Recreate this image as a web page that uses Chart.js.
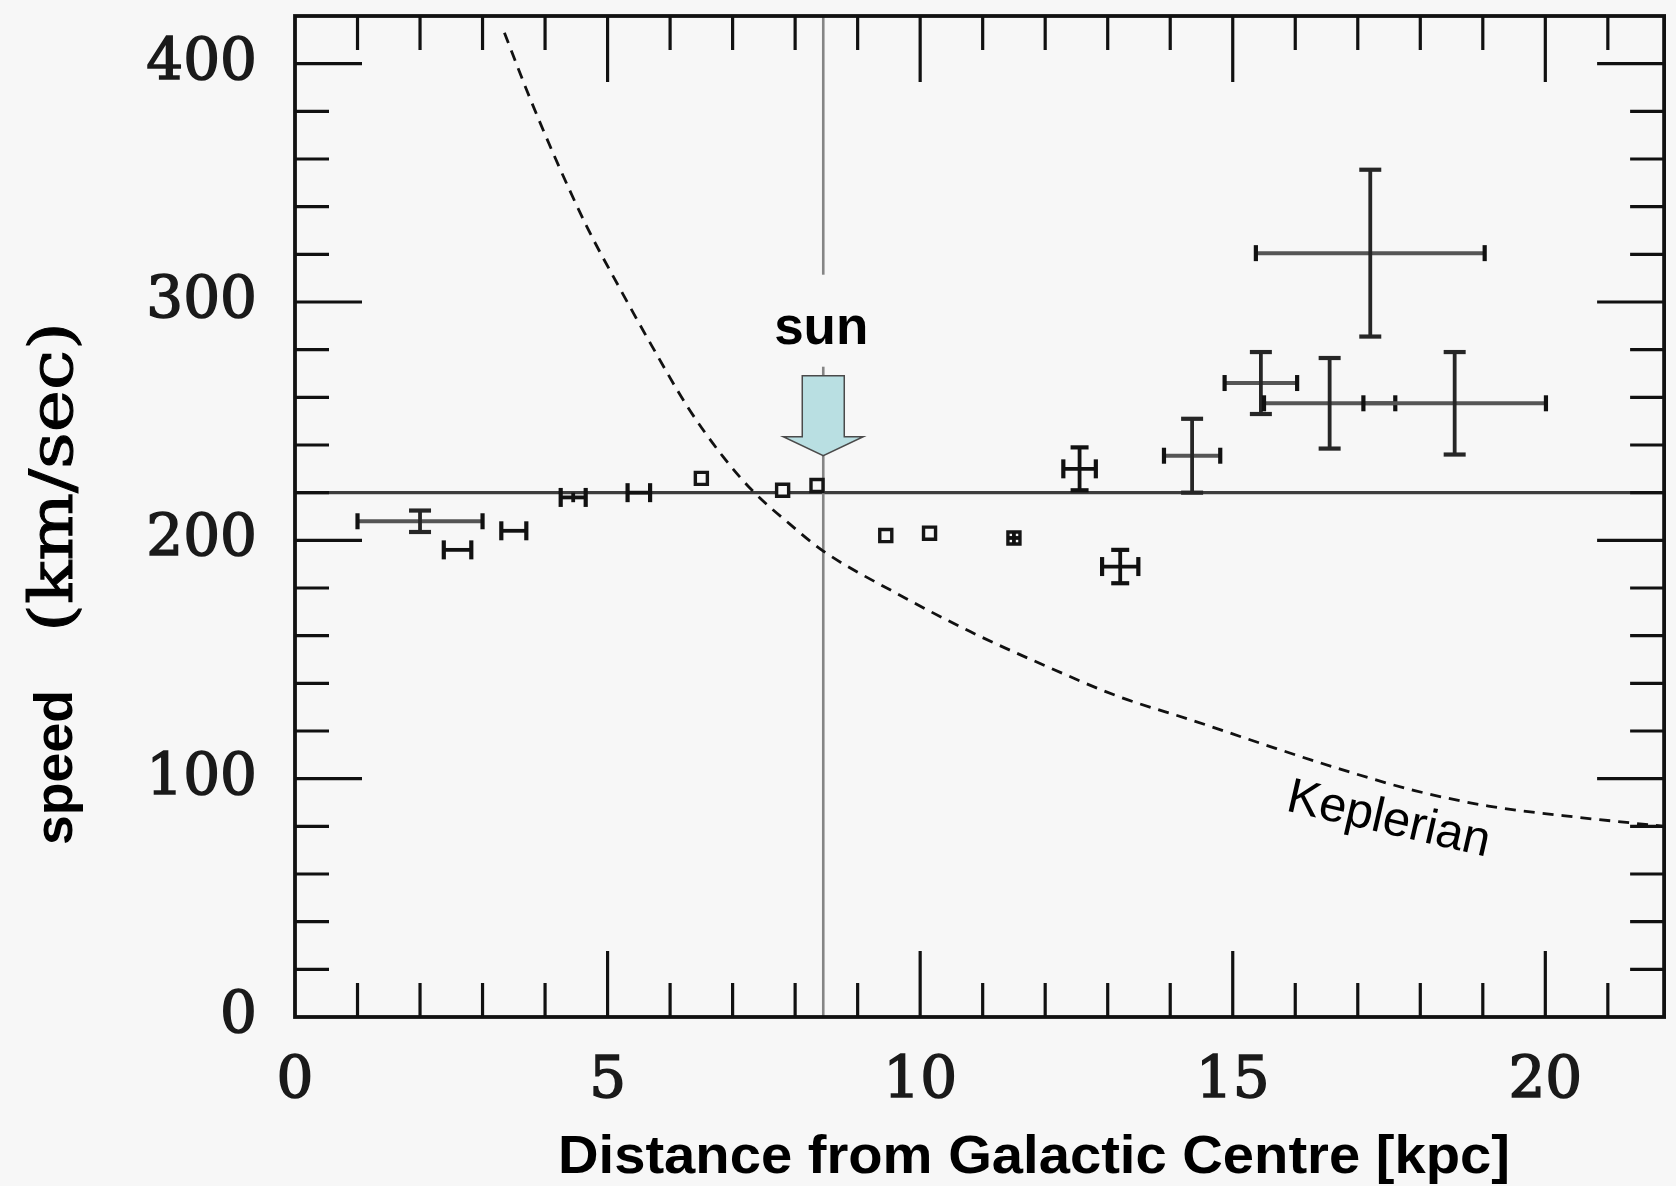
<!DOCTYPE html>
<html>
<head>
<meta charset="utf-8">
<title>Rotation curve of the Milky Way</title>
<script src="https://cdn.jsdelivr.net/npm/chart.js@4.4.1/dist/chart.umd.min.js"></script>
<style>
  html, body { margin: 0; padding: 0; background: #f7f7f7; }
  #wrap { position: relative; width: 1676px; height: 1186px; }
</style>
</head>
<body>
<div id="wrap"><canvas id="chart"></canvas></div>
<script>
// Measured circular speeds (kpc, km/s) with their half-width error bars
const radius    = [2.0, 2.6, 3.5, 4.45, 5.5, 6.5, 7.8, 8.35, 9.45, 10.15, 11.5, 12.55, 13.2, 14.35, 15.45, 16.55, 17.2, 18.55];
const speed     = [208, 196, 204, 218, 220, 226, 221, 223, 202, 203, 201, 230, 189, 235.5, 266, 257.5, 320.5, 257.5];
const radiusErr = [1.0, 0.22, 0.2, 0.2, 0.18, 0, 0, 0, 0, 0, 0.1, 0.26, 0.29, 0.45, 0.58, 1.05, 1.83, 1.46];
const speedErr  = [4.5, 0, 0, 2, 0, 0, 0, 0, 0, 0, 2.5, 9, 7, 15.5, 13, 19, 35, 21.5];

// Keplerian fall-off (dashed curve)
const keplerRadius = [3.35, 3.72, 4.17, 4.68, 5.20, 5.71, 6.28, 6.85, 7.33, 7.93, 8.45, 9.62, 10.80, 11.99, 13.17, 14.35, 15.54, 16.72, 17.91, 19.09, 20.28, 21.46, 21.90];
const keplerSpeed  = [413, 388, 360, 331, 305.5, 281.5, 256, 235, 220.5, 206.5, 195.5, 177.8, 161.7, 147.5, 134.5, 124.5, 114, 104, 95, 88.5, 84.5, 81.2, 80];

// Axis ticks
const xTickLabels = [0, 5, 10, 15, 20];
const yTickLabels = [0, 100, 200, 300, 400];
const xMinorStep = 1;
const yMinorStep = 20;
const xMax = 21.9;
const yMax = 420;

// Reference lines and annotations
const flatSpeed = 220;      // flat rotation speed
const sunRadius = 8.45;     // Sun's galactocentric distance
const sunArrowTip = 235.5;  // arrow points down onto the Sun's line
const sunLabelSpeed = 282.5;
const keplerLabelAt = [15.83, 86.7];

const BG = '#f7f7f7';

function drawFitted(ctx, text, x, y, width, font, angle, stroke) {
  ctx.save();
  ctx.font = font;
  ctx.translate(x, y);
  if (angle) ctx.rotate(angle);
  const w = ctx.measureText(text).width;
  ctx.scale(width / w, 1);
  ctx.textAlign = 'left';
  ctx.textBaseline = 'alphabetic';
  ctx.fillText(text, 0, 0);
  if (stroke) {
    ctx.lineWidth = stroke;
    ctx.strokeStyle = ctx.fillStyle;
    ctx.strokeText(text, 0, 0);
  }
  ctx.restore();
}

function seg(ctx, x1, y1, x2, y2) {
  ctx.beginPath(); ctx.moveTo(x1, y1); ctx.lineTo(x2, y2); ctx.stroke();
}

const backgroundPlugin = {
  id: 'background',
  beforeDraw(chart) {
    const ctx = chart.ctx;
    ctx.save();
    ctx.fillStyle = BG;
    ctx.fillRect(0, 0, chart.width, chart.height);
    ctx.restore();
  }
};

const guidesPlugin = {
  id: 'guides',
  beforeDatasetsDraw(chart) {
    const { ctx, chartArea: a, scales: { x, y } } = chart;
    ctx.save();
    const yp = y.getPixelForValue(flatSpeed);
    ctx.strokeStyle = '#3c3c3c';
    ctx.lineWidth = 3.2;
    seg(ctx, a.left, yp, a.right, yp);
    const xp = x.getPixelForValue(sunRadius);
    ctx.strokeStyle = '#858585';
    ctx.lineWidth = 2.6;
    seg(ctx, xp, a.top, xp, a.bottom);
    // backdrop behind the "sun" label
    const ly = y.getPixelForValue(sunLabelSpeed);
    ctx.fillStyle = BG;
    ctx.fillRect(xp - 55, ly - 69, 110, 92);
    ctx.restore();
  }
};

const errorBarPlugin = {
  id: 'errorBars',
  afterDatasetsDraw(chart) {
    const { ctx, scales: { x, y } } = chart;
    ctx.save();
    ctx.lineCap = 'butt';
    radius.forEach((r, i) => {
      const px = x.getPixelForValue(r);
      const py = y.getPixelForValue(speed[i]);
      const dx = radiusErr[i], dy = speedErr[i];
      const wide = dx > 0.4;
      if (dx > 0) {
        const x1 = x.getPixelForValue(r - dx), x2 = x.getPixelForValue(r + dx);
        ctx.strokeStyle = wide ? '#555' : '#111';
        ctx.lineWidth = wide ? 4 : 3.8;
        seg(ctx, x1, py, x2, py);
        if (px - x1 > 8) {
          const h = wide ? 8 : 9.5;
          ctx.strokeStyle = '#111';
          ctx.lineWidth = 4.2;
          seg(ctx, x1, py - h, x1, py + h);
          seg(ctx, x2, py - h, x2, py + h);
        }
      }
      if (dy > 0) {
        const y1 = y.getPixelForValue(speed[i] + dy), y2 = y.getPixelForValue(speed[i] - dy);
        ctx.strokeStyle = wide ? '#262626' : '#111';
        ctx.lineWidth = 3.8;
        seg(ctx, px, y1, px, y2);
        if (y2 - py > 8) {
          const w = wide ? 11 : 9;
          ctx.lineWidth = 4.2;
          seg(ctx, px - w, y1, px + w, y1);
          seg(ctx, px - w, y2, px + w, y2);
        }
      }
    });
    ctx.restore();
  }
};

const framePlugin = {
  id: 'frame',
  afterDraw(chart) {
    const { ctx, chartArea: a, scales: { x, y } } = chart;
    ctx.save();
    ctx.strokeStyle = '#111';
    ctx.lineWidth = 3.2;
    // inward ticks on all four sides
    for (let k = 1; k * xMinorStep < xMax; k++) {
      const v = k * xMinorStep;
      const len = xTickLabels.includes(v) ? 66 : 34;
      const p = x.getPixelForValue(v);
      seg(ctx, p, a.bottom, p, a.bottom - len);
      seg(ctx, p, a.top, p, a.top + len);
    }
    for (let k = 1; k * yMinorStep < yMax; k++) {
      const v = k * yMinorStep;
      const len = yTickLabels.includes(v) ? 67 : 34;
      const p = y.getPixelForValue(v);
      seg(ctx, a.left, p, a.left + len, p);
      seg(ctx, a.right, p, a.right - len, p);
    }
    ctx.lineWidth = 3.8;
    ctx.strokeRect(a.left, a.top, a.right - a.left, a.bottom - a.top);

    // Sun marker: label and arrow
    const sx = x.getPixelForValue(sunRadius);
    ctx.fillStyle = '#000';
    ctx.font = 'bold 53px "Liberation Sans", Arial, sans-serif';
    ctx.textAlign = 'center';
    ctx.textBaseline = 'alphabetic';
    ctx.fillText('sun', sx - 2, y.getPixelForValue(sunLabelSpeed));

    const ty = y.getPixelForValue(sunArrowTip);
    ctx.beginPath();
    ctx.moveTo(sx - 21, ty - 80);
    ctx.lineTo(sx + 21, ty - 80);
    ctx.lineTo(sx + 21, ty - 19);
    ctx.lineTo(sx + 40, ty - 19);
    ctx.lineTo(sx, ty);
    ctx.lineTo(sx - 40, ty - 19);
    ctx.lineTo(sx - 21, ty - 19);
    ctx.closePath();
    ctx.fillStyle = '#b9dfe2';
    ctx.fill();
    ctx.strokeStyle = '#4a4a4a';
    ctx.lineWidth = 1.5;
    ctx.stroke();

    // Keplerian label along the dashed curve
    ctx.fillStyle = '#000';
    ctx.save();
    ctx.translate(x.getPixelForValue(keplerLabelAt[0]), y.getPixelForValue(keplerLabelAt[1]));
    ctx.rotate(12.9 * Math.PI / 180);
    ctx.font = '49px "Liberation Sans", Arial, sans-serif';
    ctx.textAlign = 'left';
    ctx.fillText('Keplerian', 0, 0);
    ctx.restore();

    // Axis titles
    drawFitted(ctx, 'Distance from Galactic Centre [kpc]', 558, 1173, 952,
      'bold 54px "Liberation Sans", Arial, sans-serif', 0);
    drawFitted(ctx, 'speed', 72, 845, 155,
      'bold 54px "Liberation Sans", Arial, sans-serif', -Math.PI / 2);
    drawFitted(ctx, '(km/sec)', 72, 632, 310,
      '59px "DejaVu Serif", serif', -Math.PI / 2, 1);
    ctx.restore();
  }
};

const tickFont = { family: '"DejaVu Serif", serif', size: 58, lineHeight: 1 };

new Chart(document.getElementById('chart'), {
  type: 'scatter',
  data: {
    datasets: [
      {
        label: 'Keplerian',
        data: keplerRadius.map((r, i) => ({ x: r, y: keplerSpeed[i] })),
        showLine: true,
        borderColor: '#111',
        borderWidth: 2.8,
        borderDash: [11, 8],
        pointRadius: 0,
        cubicInterpolationMode: 'monotone',
        fill: false
      },
      {
        label: 'Rotation speed',
        data: radius.map((r, i) => ({ x: r, y: speed[i] })),
        showLine: false,
        pointStyle: 'rect',
        pointRadius: ctx => (radiusErr[ctx.dataIndex] <= 0.15 ? 8.5 : 0),
        pointBorderWidth: 3.4,
        pointBorderColor: '#151515',
        pointBackgroundColor: BG
      }
    ]
  },
  options: {
    responsive: true,
    maintainAspectRatio: false,
    animation: false,
    events: [],
    layout: { padding: { left: 0, right: 6, top: 16, bottom: 0 } },
    plugins: { legend: { display: false }, tooltip: { enabled: false } },
    scales: {
      x: {
        type: 'linear',
        min: 0,
        max: xMax,
        grid: { display: false, drawTicks: false },
        border: { display: false },
        afterBuildTicks: s => { s.ticks = xTickLabels.map(v => ({ value: v })); },
        afterFit: s => { s.height = 169; s.paddingLeft = 0; s.paddingRight = 0; },
        ticks: { font: tickFont, color: '#1a1a1a', textStrokeColor: '#1a1a1a', textStrokeWidth: 1.6,
                 padding: 36, maxRotation: 0, autoSkip: false }
      },
      y: {
        type: 'linear',
        min: 0,
        max: yMax,
        grid: { display: false, drawTicks: false },
        border: { display: false },
        afterBuildTicks: s => { s.ticks = yTickLabels.map(v => ({ value: v })); },
        afterFit: s => { s.width = 295; s.paddingTop = 0; s.paddingBottom = 0; },
        ticks: { font: tickFont, color: '#1a1a1a', textStrokeColor: '#1a1a1a', textStrokeWidth: 1.6,
                 padding: 38, autoSkip: false }
      }
    }
  },
  plugins: [backgroundPlugin, guidesPlugin, errorBarPlugin, framePlugin]
});
</script>
</body>
</html>
